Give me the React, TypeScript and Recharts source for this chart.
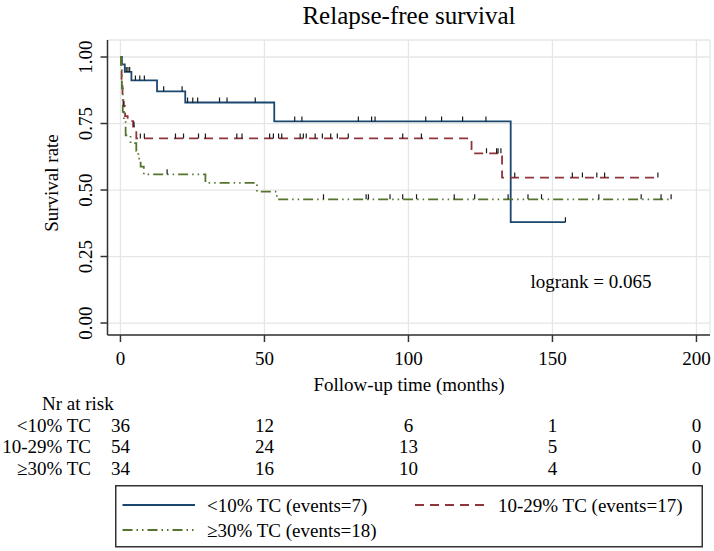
import React from 'react';
import { ComposedChart, Line, Scatter, XAxis, YAxis, CartesianGrid, Legend } from 'recharts';

const FONT = '"Liberation Serif", "Times New Roman", Times, serif';

// ---------- Kaplan-Meier step data (time in months, survival) ----------
const lowTimes = [0, 0.5, 1.5, 3.8, 12.7, 22.5, 53.4, 135.5, 154.5];
const lowSurv = [1.0, 0.972, 0.944, 0.912, 0.871, 0.829, 0.758, 0.379, 0.379];
const lowCensor = [2.0, 2.6, 3.2, 5.2, 6.7, 8.3, 15.0, 21.4, 23.3, 25.1, 26.8, 34.4, 37.0, 46.8, 60.5, 63.0, 82.6, 87.2, 88.4, 106.0, 111.5, 118.8, 126.9, 154.5];

const midTimes = [0, 0.2, 0.4, 0.7, 1.0, 1.6, 2.5, 4.4, 5.5, 121.9, 132.5, 186.6];
const midSurv = [1.0, 0.963, 0.907, 0.852, 0.815, 0.778, 0.759, 0.738, 0.694, 0.638, 0.547, 0.547];
const midCensor = [1.2, 4.7, 6.9, 8.3, 19.1, 21.9, 27.1, 29.5, 40.4, 42.2, 51.8, 53.1, 54.9, 56.0, 62.4, 63.5, 64.5, 67.6, 70.1, 73.0, 75.3, 79.1, 98.0, 104.5, 127.1, 130.6, 131.1, 132.1, 136.9, 156.9, 160.4, 165.4, 168.1, 186.6];

const highTimes = [0, 0.2, 0.5, 0.8, 1.2, 1.8, 3.5, 5.5, 6.2, 7.0, 8.1, 29.5, 47.4, 54.3, 191.2];
const highSurv = [1.0, 0.971, 0.882, 0.794, 0.765, 0.706, 0.676, 0.647, 0.618, 0.588, 0.559, 0.527, 0.494, 0.465, 0.465];
const highCensor = [16.2, 70.5, 85.3, 86.1, 93.6, 98.0, 102.8, 115.9, 123.0, 134.6, 141.5, 146.2, 166.1, 180.8, 187.7, 191.2];

// ---------- axes / risk table ----------
const xTicks = [0, 50, 100, 150, 200];
const yTicks = [0, 0.25, 0.5, 0.75, 1];
const riskLabels = ['<10% TC', '10-29% TC', '≥30% TC'];
const riskLow = [36, 12, 6, 1, 0];
const riskMid = [54, 24, 13, 5, 0];
const riskHigh = [34, 16, 10, 4, 0];

// ---------- series ----------
const seriesNames = ['<10% TC (events=7)', '10-29% TC (events=17)', '≥30% TC (events=18)'];
const seriesColors = ['#1a476f', '#90353b', '#55752f'];
const seriesDash = ['', '9 6', '10 4 1.5 4 1.5 4'];

const toSteps = (times: number[], surv: number[]) => times.map((t, i) => ({ t, s: surv[i] }));
const stepAt = (times: number[], surv: number[], t: number) => {
  let v = surv[0];
  for (let i = 0; i < times.length; i++) if (times[i] <= t) v = surv[i];
  return v;
};
const toCensor = (times: number[], surv: number[], cens: number[]) =>
  cens.map((t) => ({ t, s: stepAt(times, surv, t) }));

const lowData = toSteps(lowTimes, lowSurv);
const midData = toSteps(midTimes, midSurv);
const highData = toSteps(highTimes, highSurv);
const lowCens = toCensor(lowTimes, lowSurv, lowCensor);
const midCens = toCensor(midTimes, midSurv, midCensor);
const highCens = toCensor(highTimes, highSurv, highCensor);

const CensorMark = (props: any) => {
  const { cx, cy } = props;
  if (cx == null || cy == null) return null;
  return <line x1={cx} x2={cx} y1={cy} y2={cy - 5} stroke="#1a1a1a" strokeWidth={1.2} />;
};

const XTick = (props: any) => {
  const { x, y, payload } = props;
  const i = xTicks.indexOf(payload.value);
  const rows = [riskLow, riskMid, riskHigh];
  return (
    <g fontFamily={FONT} fontSize={19} fill="#000">
      <text x={x} y={y + 22.5} textAnchor="middle">{payload.value}</text>
      {i >= 0 && rows.map((r, k) => (
        <text key={k} x={x} y={y + 89.5 + k * 21.5} textAnchor="middle">{r[i]}</text>
      ))}
    </g>
  );
};

const YTick = (props: any) => {
  const { x, y, payload } = props;
  const cx = x - 14.5;
  return (
    <text x={cx} y={y} transform={`rotate(-90, ${cx}, ${y})`} textAnchor="middle" dominantBaseline="central"
      fontFamily={FONT} fontSize={19} fill="#000">
      {Number(payload.value).toFixed(2)}
    </text>
  );
};

const LegendBox = () => (
  <svg width={588} height={63} style={{ display: 'block' }}>
    <rect x={0.75} y={0.75} width={586.5} height={61} fill="#fff" stroke="#333" strokeWidth={1.5} />
    <line x1={7.5} x2={80} y1={20} y2={20} stroke={seriesColors[0]} strokeWidth={1.8} />
    <text x={92} y={26.5} fontFamily={FONT} fontSize={19}>{seriesNames[0]}</text>
    <line x1={300} x2={372} y1={20} y2={20} stroke={seriesColors[1]} strokeWidth={1.8} strokeDasharray={seriesDash[1]} />
    <text x={383} y={26.5} fontFamily={FONT} fontSize={19}>{seriesNames[1]}</text>
    <line x1={7.5} x2={80} y1={45} y2={45} stroke={seriesColors[2]} strokeWidth={1.8} strokeDasharray={seriesDash[2]} />
    <text x={92} y={51.5} fontFamily={FONT} fontSize={19}>{seriesNames[2]}</text>
  </svg>
);

export default function App() {
  return (
    <div style={{ position: 'absolute', left: 0, top: 0, width: 714, height: 551, background: '#fff' }}>
      <ComposedChart width={714} height={551} margin={{ top: 40, right: 4, left: 47.5, bottom: 186 }}>
        <CartesianGrid stroke="#e6e6e6" strokeWidth={1.3} />
        <XAxis
          type="number"
          dataKey="t"
          domain={[-4.5, 204.7]}
          ticks={xTicks}
          interval={0}
          allowDataOverflow
          height={30}
          tickSize={7}
          tickMargin={0}
          tick={<XTick />}
          axisLine={{ stroke: '#333', strokeWidth: 1.5 }}
          tickLine={{ stroke: '#333', strokeWidth: 1.5 }}
        />
        <YAxis
          type="number"
          domain={[-0.045, 1.064]}
          ticks={yTicks}
          interval={0}
          allowDataOverflow
          width={60}
          tickSize={7}
          tickMargin={0}
          tick={<YTick />}
          axisLine={{ stroke: '#333', strokeWidth: 1.5 }}
          tickLine={{ stroke: '#333', strokeWidth: 1.5 }}
        />
        <Line data={lowData} dataKey="s" name={seriesNames[0]} type="stepAfter" stroke={seriesColors[0]} strokeWidth={1.8}
          dot={false} activeDot={false} isAnimationActive={false} />
        <Line data={midData} dataKey="s" name={seriesNames[1]} type="stepAfter" stroke={seriesColors[1]} strokeWidth={1.8}
          strokeDasharray={seriesDash[1]} dot={false} activeDot={false} isAnimationActive={false} />
        <Line data={highData} dataKey="s" name={seriesNames[2]} type="stepAfter" stroke={seriesColors[2]} strokeWidth={1.8}
          strokeDasharray={seriesDash[2]} dot={false} activeDot={false} isAnimationActive={false} />
        <Scatter data={lowCens} dataKey="s" shape={<CensorMark />} legendType="none" isAnimationActive={false} />
        <Scatter data={midCens} dataKey="s" shape={<CensorMark />} legendType="none" isAnimationActive={false} />
        <Scatter data={highCens} dataKey="s" shape={<CensorMark />} legendType="none" isAnimationActive={false} />
        <Legend
          layout="horizontal"
          verticalAlign="middle"
          align="center"
          wrapperStyle={{ position: 'absolute', left: 115, top: 485, width: 588, height: 63, margin: 0, padding: 0 }}
          content={() => <LegendBox />}
        />
      </ComposedChart>
      <svg width={714} height={551} style={{ position: 'absolute', left: 0, top: 0, pointerEvents: 'none' }}
        fontFamily={FONT} fill="#000">
        <text x={409} y={24} textAnchor="middle" fontSize={25}>Relapse-free survival</text>
        <text x={51} y={183} transform="rotate(-90, 51, 183)" textAnchor="middle" dominantBaseline="central" fontSize={19}>Survival rate</text>
        <text x={409} y={391} textAnchor="middle" fontSize={19}>Follow-up time (months)</text>
        <text x={591} y={288} textAnchor="middle" fontSize={19}>logrank = 0.065</text>
        <text x={42} y={409.5} fontSize={19}>Nr at risk</text>
        {riskLabels.map((l, k) => (
          <text key={l} x={91} y={431.5 + k * 21.5} textAnchor="end" fontSize={19}>{l}</text>
        ))}
      </svg>
    </div>
  );
}
